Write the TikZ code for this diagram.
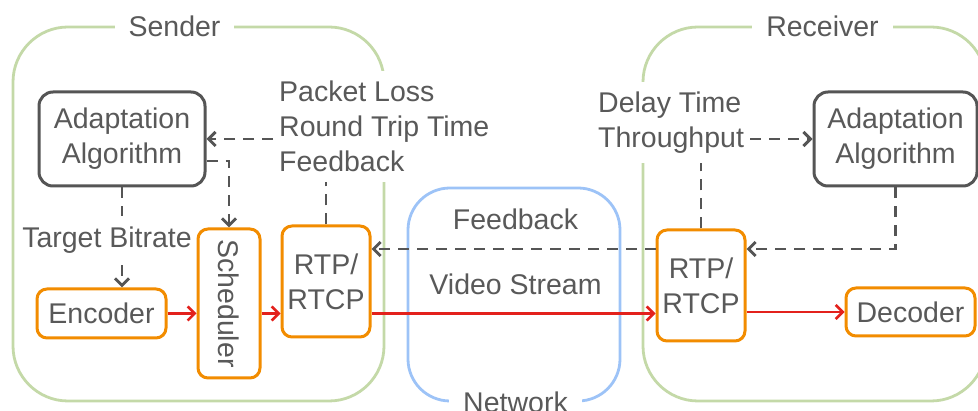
\documentclass[tikz,border=0pt]{standalone}
\usepackage{fontspec}
\setmainfont{Liberation Sans}
\usetikzlibrary{arrows.meta}
\definecolor{txtgray}{HTML}{595959}
\definecolor{linegray}{HTML}{555555}
\definecolor{boxorange}{HTML}{F28C00}
\definecolor{redline}{HTML}{E3211C}
\definecolor{greenb}{HTML}{C4D9A8}
\definecolor{blueb}{HTML}{9DC3F7}
\begin{document}
\begin{tikzpicture}[x=1pt,y=-1pt,
font=\fontsize{28.5}{35}\selectfont, text=txtgray,
zone/.style ={line width=2.8pt, rounded corners=55pt},
ioblock/.style ={rectangle, draw=boxorange, line width=3pt,
  rounded corners=10pt, align=center, inner sep=0pt
},
algblock/.style ={rectangle, draw=linegray, line width=3pt,
  rounded corners=14pt, align=center, inner sep=0pt
},
lbl/.style ={fill=white, inner xsep=14pt, inner ysep=4pt},
infotext/.style ={fill=white, anchor=west, align=left,
  inner xsep=6pt, inner ysep=10pt
},
flow/.style ={draw=redline, line width=2.6pt,
  -{Straight Barb[length=7pt,width=14pt]}
},
fbline/.style ={draw=linegray, line width=2.9pt, dash pattern=on 11pt off 8pt},
arrowed/.style ={-{Straight Barb[length=7pt,width=14pt]}}
]
\useasboundingbox (0,0) rectangle (978,411);
\clip (0,0) rectangle (978,411);
% regions
\draw[zone, draw=greenb] (13,27) rectangle (384,401);
\draw[zone, draw=greenb] (643,27) rectangle (986,401);
\draw[zone, draw=blueb, rounded corners=42pt] (408,188) rectangle (620,401);
\node (sendertitle) at (174.5,37) [lbl, anchor=base] {Sender};
\node (recvtitle) at (822.5,37) [lbl, anchor=base] {Receiver};
\node (nettitle) at (515.5,413) [lbl, anchor=base] {Network};
% sender
\node (salg) at (122,139) [algblock, minimum width=166pt, minimum height=94pt] {Adaptation\\Algorithm};
\node (tbtxt) at (107,248) [anchor=base, inner ysep=11pt] {Target Bitrate};
\node (enc) at (101.5,313.5) [ioblock, minimum width=129pt, minimum height=49pt] {Encoder};
\node (sched) at (229,303.5) [ioblock, minimum width=62pt, minimum height=149pt] {\rotatebox{-90}{Scheduler}};
\node (srtp) at (326,281.5) [ioblock, minimum width=88pt, minimum height=111pt] {RTP/\\RTCP};
\node (sendfb) at (273,126.7) [infotext] {Packet Loss\\Round Trip Time\\Feedback};
% network
\node (fbtxt) at (515.5,230) [anchor=base] {Feedback};
\node (vstxt) at (515.5,295) [anchor=base] {Video Stream};
% receiver
\node (ralg) at (895.5,139) [algblock, minimum width=163pt, minimum height=94pt] {Adaptation\\Algorithm};
\node (rrtp) at (701,285.5) [ioblock, minimum width=88pt, minimum height=111pt] {RTP/\\RTCP};
\node (dec) at (910.5,312) [ioblock, minimum width=129pt, minimum height=48pt] {Decoder};
\node (recvfb) at (592,122.3) [infotext] {Delay Time\\Throughput};
% video path
\draw[flow] (enc.east) -- (enc.east -| sched.west);
\draw[flow] (enc.east -| sched.east) -- (enc.east -| srtp.west);
\draw[flow] (enc.east -| srtp.east) -- (enc.east -| rrtp.west);
\draw[flow] (rrtp.east |- dec.west) -- (dec.west);
% feedback path
\draw[fbline] (salg.south) -- (salg.south |- tbtxt.north);
\draw[fbline, arrowed] (salg.south |- tbtxt.south) -- (enc.north -| salg.south);
\draw[fbline, arrowed] ([yshift=-22pt]salg.east) -| (sched.north);
\draw[fbline] (srtp.north) -- (srtp.north |- sendfb.south);
\draw[fbline, arrowed] (sendfb.west |- salg.east) -- (salg.east);
\draw[fbline, arrowed] ([yshift=36.5pt]rrtp.west) -- ([yshift=32.5pt]srtp.east);
\draw[fbline] (rrtp.north) -- (rrtp.north |- recvfb.south);
\draw[fbline, arrowed] (recvfb.east |- ralg.west) -- (ralg.west);
\draw[fbline, arrowed] (ralg.south) |- ([yshift=36.5pt]rrtp.east);
\end{tikzpicture}
\end{document}
